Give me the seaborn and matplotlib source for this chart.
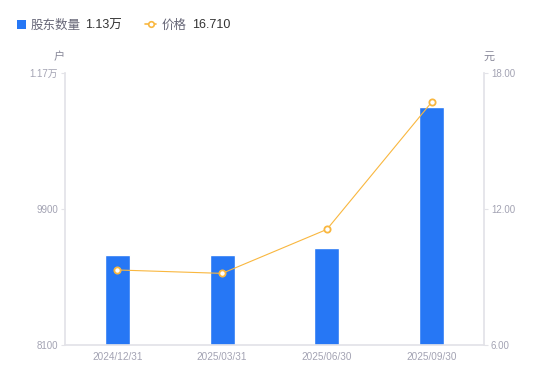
import matplotlib
matplotlib.use("Agg")
import matplotlib.pyplot as plt
from matplotlib.lines import Line2D
from matplotlib.patches import Rectangle
import seaborn as sns
import pandas as pd

dates = ["2024/12/31", "2025/03/31", "2025/06/30", "2025/09/30"]
holders = [9290, 9285, 9385, 11255]
prices = [9.31, 9.16, 11.10, 16.71]
left_ticks = [8100, 9900, 11700]
left_labels = ["8100", "9900", "1.17万"]
right_ticks = [6, 12, 18]
right_labels = ["6.00", "12.00", "18.00"]

BLUE = "#2677F5"
ORANGE = "#F9B73F"
TICK = "#A3A3B3"
SPINE = "#E3E3E8"

sns.set_theme(style="white")
plt.rcParams["font.family"] = ["Liberation Sans", "Noto Sans CJK SC", "DejaVu Sans"]

df = pd.DataFrame({"date": dates, "holders": holders, "price": prices})

fig = plt.figure(figsize=(5.5, 3.81), dpi=100)
ax = fig.add_axes([65/550, 1-345/381, (484-65)/550, (345-73)/381])
sns.barplot(data=df, x="date", y="holders", color=BLUE, width=0.24,
            saturation=1, ax=ax)
ax.set_ylim(8100, 11700)
ax.set_xlim(-0.5, 3.5)
ax.set_yticks(left_ticks)
ax.set_yticklabels(left_labels)
ax.set_xlabel("")
ax.set_ylabel("")

ax2 = ax.twinx()
sns.lineplot(x=list(range(len(dates))), y=df["price"], ax=ax2, color=ORANGE,
             linewidth=0.8, marker="o", markersize=4.5, markerfacecolor="white",
             markeredgecolor=ORANGE, markeredgewidth=1.3)
ax2.set_ylim(6, 18)
ax2.set_yticks(right_ticks)
ax2.set_yticklabels(right_labels)
ax2.set_ylabel("")
ax2.set_xlim(-0.5, 3.5)

for a in (ax, ax2):
    for s in a.spines.values():
        s.set_visible(False)
    a.tick_params(axis="both", colors=SPINE, labelcolor=TICK, labelsize=7,
                  length=3, width=0.8, pad=2)
    a.grid(False)
ax.spines["left"].set_visible(True)
ax.spines["left"].set_color(SPINE)
ax.spines["bottom"].set_visible(True)
ax.spines["bottom"].set_color(SPINE)
ax2.spines["right"].set_visible(True)
ax2.spines["right"].set_color(SPINE)
ax.tick_params(axis="x", length=0, pad=5, labelsize=7.2)
ax2.tick_params(axis="y", right=True)

fig.text(59/550, 1-57/381, "户", fontsize=8, color="#888899", ha="center", va="center")
fig.text(489/550, 1-57/381, "元", fontsize=8, color="#888899", ha="center", va="center")

# legend
ly = 1 - 25.5/381
fig.add_artist(Rectangle((17/550, 1-29/381), 9/550, 9/381, transform=fig.transFigure,
                         facecolor=BLUE, edgecolor="none"))
fig.text(31/550, ly, "股东数量", fontsize=9, color="#666677", va="center")
fig.text(85/550, ly, "1.13万", fontsize=9, color="#333333", va="center")
fig.add_artist(Line2D([145/550, 156/550], [1-24/381, 1-24/381], transform=fig.transFigure,
                      color=ORANGE, linewidth=1.2))
fig.add_artist(Line2D([150.5/550], [1-24/381], transform=fig.transFigure, marker="o",
                      markersize=4, markerfacecolor="white", markeredgecolor=ORANGE,
                      markeredgewidth=1.2, linestyle="none"))
fig.text(162/550, ly, "价格", fontsize=9, color="#666677", va="center")
fig.text(192/550, ly, "16.710", fontsize=9, color="#333333", va="center")

fig.savefig("out.png", dpi=100, facecolor="white")
